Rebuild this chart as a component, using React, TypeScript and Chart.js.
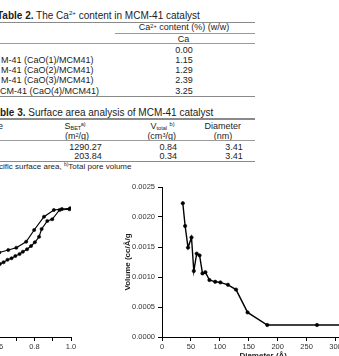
import React, { useEffect, useRef } from "react";
import { Chart, registerables } from "chart.js";

Chart.register(...registerables);

const FONT = '"Liberation Sans", Arial, Helvetica, sans-serif';
const INK = "#1c1c1c";

// ---- Table 2: Ca2+ content ----
const caRowLabels = [
  "",
  "M-41 (CaO(1)/MCM41)",
  "M-41 (CaO(2)/MCM41)",
  "M-41 (CaO(3)/MCM41)",
  "CM-41 (CaO(4)/MCM41)",
];
const caContent = ["0.00", "1.15", "1.29", "2.39", "3.25"];

// ---- Table 3: surface area analysis ----
const sbetValues = ["1290.27", "203.84"];
const vtotalValues = ["0.84", "0.34"];
const diameterValues = ["3.41", "3.41"];

// ---- N2 isotherm (relative pressure vs volume adsorbed) ----
const adsorptionP = [0.61, 0.63, 0.652, 0.674, 0.695, 0.718, 0.736, 0.759, 0.781, 0.802, 0.825, 0.839, 0.87, 0.897, 0.937, 0.991];
const adsorptionV = [292, 299, 309, 315, 324, 332, 341, 351, 364, 379, 401, 432, 464, 471, 508, 511];
const desorptionP = [0.607, 0.656, 0.7, 0.754, 0.798, 0.852, 0.906, 0.95, 0.995];
const desorptionV = [338, 348, 357, 381, 428, 481, 508, 512, 515];
const isoTicks = { min: 0, max: 1, step: 0.1 };

// ---- Pore size distribution ----
const poreDiameter = [36, 40, 45, 51, 55, 60, 65, 70, 75, 82, 92, 101, 114, 128, 148, 182, 268, 340];
const poreVolume = [0.00223, 0.00185, 0.00149, 0.00166, 0.0011, 0.00139, 0.00136, 0.00106, 0.00108, 0.00095, 0.00092, 0.00091, 0.00087, 0.00079, 0.00041, 0.0002, 0.0002, 0.0002];
const poreXTicks = { min: 0, max: 350, step: 50 };
const poreYTicks = { min: 0, max: 0.0025, step: 0.0005 };

function T({ x, y, s = 9, a = "left", b = false, children }: any) {
  const tx = a === "center" ? "-50%" : a === "right" ? "-100%" : "0";
  return (
    <div
      style={{
        position: "absolute",
        left: x,
        top: y,
        transform: `translate(${tx}, -50%)`,
        fontSize: s,
        lineHeight: 1,
        whiteSpace: "nowrap",
        fontWeight: b ? "bold" : "normal",
      }}
    >
      {children}
    </div>
  );
}

const Sup = ({ children }: any) => (
  <span style={{ fontSize: "0.62em", position: "relative", top: "-0.5em" }}>{children}</span>
);
const Sub = ({ children }: any) => (
  <span style={{ fontSize: "0.62em", position: "relative", top: "0.2em" }}>{children}</span>
);

function Rule({ y, x0 = 0, x1 = 255, h = 1, c = "#9a9a9a" }: any) {
  return (
    <div
      style={{ position: "absolute", left: x0, top: y - h / 2, width: x1 - x0, height: h, background: c }}
    />
  );
}

const axisFont = { family: FONT, size: 7.5 };
const tickGrid = { display: true, drawOnChartArea: false, drawTicks: true, tickLength: 4, color: "#000", lineWidth: 1 };
const border = { display: true, color: "#000", width: 1 };

function IsothermChart() {
  const ref = useRef<HTMLCanvasElement>(null);
  useEffect(() => {
    const toPts = (xs: number[], ys: number[]) => xs.map((x, i) => ({ x, y: ys[i] }));
    const chart = new Chart(ref.current!, {
      type: "scatter",
      data: {
        datasets: [
          { data: toPts(adsorptionP, adsorptionV) },
          { data: toPts(desorptionP, desorptionV) },
        ].map((d) => ({
          ...d,
          showLine: true,
          borderColor: "#000",
          backgroundColor: "#000",
          borderWidth: 1.2,
          pointRadius: 1.6,
          pointBorderWidth: 0.6,
        })),
      },
      options: {
        animation: false,
        responsive: false,
        layout: { padding: { left: 0, right: 12, top: 8, bottom: 0 } },
        plugins: { legend: { display: false }, tooltip: { enabled: false } },
        scales: {
          x: {
            type: "linear",
            min: isoTicks.min,
            max: isoTicks.max,
            grid: tickGrid,
            border,
            ticks: {
              stepSize: isoTicks.step,
              autoSkip: false,
              maxRotation: 0,
              padding: 1,
              color: "#333",
              font: axisFont,
              callback: (v: any) => {
                const k = Math.round(Number(v) * 10);
                return k % 2 === 0 ? (k / 10).toFixed(1) : "";
              },
            },
            afterFit: (s: any) => {
              s.height = 21;
              s.paddingLeft = 0;
              s.paddingRight = 0;
            },
          },
          y: { display: false, min: 0, max: 600 },
        },
      } as any,
    });
    return () => chart.destroy();
  }, []);
  return (
    <canvas
      ref={ref}
      width={199}
      height={179}
      style={{ position: "absolute", left: -116, top: 179, width: 199, height: 179 }}
    />
  );
}

function PoreChart() {
  const ref = useRef<HTMLCanvasElement>(null);
  useEffect(() => {
    const chart = new Chart(ref.current!, {
      type: "scatter",
      data: {
        datasets: [
          {
            data: poreDiameter.map((x, i) => ({ x, y: poreVolume[i] })),
            showLine: true,
            borderColor: "#000",
            backgroundColor: "#000",
            borderWidth: 1.4,
            pointRadius: 1.7,
            pointBorderWidth: 0.6,
          },
        ],
      },
      options: {
        animation: false,
        responsive: false,
        layout: { padding: { left: 0, right: 0, top: 8, bottom: 0 } },
        plugins: { legend: { display: false }, tooltip: { enabled: false } },
        scales: {
          x: {
            type: "linear",
            min: poreXTicks.min,
            max: poreXTicks.max,
            grid: tickGrid,
            border,
            title: {
              display: true,
              text: "Diameter (Å)",
              color: INK,
              font: { family: FONT, size: 8, weight: "bold" },
              padding: { top: 0, bottom: 0 },
            },
            ticks: {
              stepSize: poreXTicks.step,
              autoSkip: false,
              maxRotation: 0,
              padding: 1,
              color: "#333",
              font: axisFont,
            },
            afterFit: (s: any) => {
              s.height = 24;
              s.paddingLeft = 0;
              s.paddingRight = 0;
            },
          },
          y: {
            type: "linear",
            min: poreYTicks.min,
            max: poreYTicks.max,
            grid: tickGrid,
            border,
            title: {
              display: true,
              text: "Volume (cc/Å/g",
              color: INK,
              font: { family: FONT, size: 8, weight: "bold" },
              padding: { top: 4, bottom: 0 },
            },
            ticks: {
              stepSize: poreYTicks.step,
              padding: 3,
              color: "#333",
              font: axisFont,
              callback: (v: any) => Number(v).toFixed(4),
            },
            afterFit: (s: any) => {
              s.width = 43;
              s.paddingTop = 0;
              s.paddingBottom = 0;
            },
          },
        },
      } as any,
    });
    return () => chart.destroy();
  }, []);
  return (
    <canvas
      ref={ref}
      width={250}
      height={182}
      style={{ position: "absolute", left: 119, top: 179, width: 250, height: 182 }}
    />
  );
}

export default function App() {
  const rowY = [50, 60, 70.3, 80.3, 90.7];
  const t3RowY = [147.3, 156.3];
  return (
    <div
      style={{
        position: "fixed",
        left: 0,
        top: 0,
        width: 339,
        height: 356,
        overflow: "hidden",
        background: "#fff",
        fontFamily: FONT,
        color: INK,
      }}
    >
      {/* Table 2 */}
      <T x={-3} y={15.5} s={10}>
        <b>Table 2.</b> The Ca<Sup>2+</Sup> content in MCM-41 catalyst
      </T>
      <Rule y={22.7} h={1.4} c="#8a8a8a" />
      <T x={184} y={27.3} a="center">
        Ca<Sup>2+</Sup> content (%) (w/w)
      </T>
      <Rule y={33} x0={115} />
      <T x={183.5} y={39} a="center">
        Ca
      </T>
      <Rule y={43.7} />
      {caContent.map((v, i) => (
        <React.Fragment key={i}>
          {caRowLabels[i] ? (
            <T x={i === 4 ? 0 : 1} y={rowY[i]}>
              {caRowLabels[i]}
            </T>
          ) : null}
          <T x={184} y={rowY[i]} a="center">
            {v}
          </T>
        </React.Fragment>
      ))}
      <Rule y={96.3} h={1.6} c="#8a8a8a" />

      {/* Table 3 */}
      <T x={-11} y={113.3} s={10}>
        <b>Table 3.</b> Surface area analysis of MCM-41 catalyst
      </T>
      <Rule y={119} h={1.4} c="#8a8a8a" />
      <T x={-2} y={125.7}>
        e
      </T>
      <T x={75} y={125.7} a="center">
        S<Sub>BET</Sub>
        <Sup>a)</Sup>
      </T>
      <T x={77} y={136.3} a="center">
        (m<Sup>2</Sup>/g)
      </T>
      <T x={162.5} y={125.7} a="center">
        V<Sub>total</Sub> <Sup>b)</Sup>
      </T>
      <T x={161.7} y={136.3} a="center">
        (cm<Sup>3</Sup>/g)
      </T>
      <T x={222.7} y={125.7} a="center">
        Diameter
      </T>
      <T x={223} y={136.3} a="center">
        (nm)
      </T>
      <Rule y={140.7} />
      {sbetValues.map((v, i) => (
        <React.Fragment key={i}>
          <T x={101.7} y={t3RowY[i]} a="right">
            {v}
          </T>
          <T x={168.3} y={t3RowY[i]} a="center">
            {vtotalValues[i]}
          </T>
          <T x={234} y={t3RowY[i]} a="center">
            {diameterValues[i]}
          </T>
        </React.Fragment>
      ))}
      <Rule y={161.7} h={1.6} c="#8a8a8a" />
      <T x={-1} y={166.7} s={8}>
        cific surface area, <Sup>b)</Sup>Total pore volume
      </T>

      {/* Figures */}
      <IsothermChart />
      <PoreChart />
    </div>
  );
}
